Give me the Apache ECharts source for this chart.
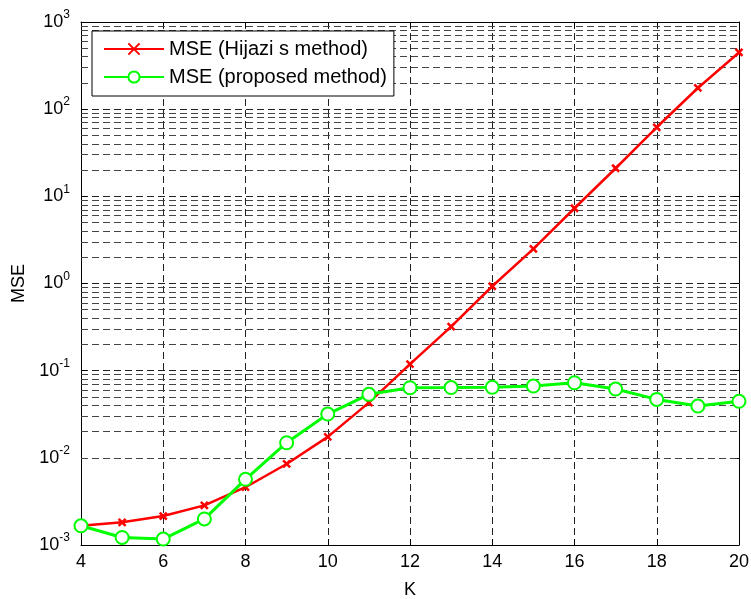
<!DOCTYPE html>
<html>
<head>
<meta charset="utf-8">
<script src="https://cdn.jsdelivr.net/npm/echarts@6/dist/echarts.min.js"></script>
<style>
html,body{margin:0;padding:0;background:#fff}
#main{width:751px;height:599px}
</style>
</head>
<body>
<div id="main"></div>
<script>
// K values (x axis)
var kVals = [4, 5, 6, 7, 8, 9, 10, 11, 12, 13, 14, 15, 16, 17, 18, 19, 20]
// MSE, Hijazi's method
var mseHijazi = [0.00166, 0.00182, 0.00215, 0.00285, 0.0046, 0.0085, 0.0174, 0.043, 0.119, 0.32, 0.93, 2.5, 7.3, 21, 62, 175, 447]
// MSE, proposed method
var mseProposed = [0.00166, 0.00122, 0.00117, 0.00199, 0.00567, 0.0149, 0.0318, 0.0535, 0.0637, 0.0640, 0.0645, 0.0666, 0.0727, 0.0615, 0.0468, 0.0393, 0.0445]
// log grid: decades and the minor multipliers inside each
var decades = [0.001, 0.01, 0.1, 1, 10, 100]
var minorMult = [2, 3, 4, 5, 6, 7, 8, 9]

var font = 'Liberation Sans, Arial, Helvetica, sans-serif'

function pairs(xs, ys){
    var out = []
    for(var i=0;i<xs.length;i++){
        out.push([xs[i], ys[i]])
    }
    return out
}

// minor dashed grid lines (2..9 x 10^n)
var minorLines = []
for(var d=0;d<decades.length;d++){
    for(var m=0;m<minorMult.length;m++){
        minorLines.push({yAxis: decades[d]*minorMult[m]})
    }
}

var gridDash = {color:'#222', width:1, type:[7,4]}

var myChart = echarts.init(document.getElementById('main'))
var option = {
    animation:false,
    textStyle:{fontFamily:font},
    grid:{left:81, right:12, top:22, bottom:54, containLabel:false, outerBoundsMode:'none'},
    legend:{
        left:92,
        top:31,
        orient:'vertical',
        backgroundColor:'#fff',
        borderColor:'#000',
        borderWidth:1,
        borderRadius:0,
        padding:[8, 7, 9, 11],
        itemWidth:60,
        itemHeight:14,
        itemGap:8,
        textStyle:{fontFamily:font, fontSize:20, color:'#000'},
        z:10,
        data:['MSE (Hijazi s method)', 'MSE (proposed method)']
    },
    xAxis:[{
        type:'value',
        min:4,
        max:20,
        interval:2,
        name:'K',
        nameLocation:'middle',
        nameGap:36,
        nameTextStyle:{fontFamily:font, fontSize:18, color:'#000'},
        axisLine:{show:true, lineStyle:{color:'#000', width:1}},
        axisTick:{show:true, inside:true, length:6, lineStyle:{color:'#000'}},
        axisLabel:{fontFamily:font, fontSize:18, color:'#000', margin:8},
        splitLine:{show:true, lineStyle:gridDash}
    },{
        type:'value',
        position:'top',
        min:4,
        max:20,
        interval:2,
        axisLine:{show:true, lineStyle:{color:'#000', width:1}},
        axisTick:{show:true, inside:true, length:6, lineStyle:{color:'#000'}},
        axisLabel:{show:false},
        splitLine:{show:false}
    }],
    yAxis:[{
        type:'log',
        logBase:10,
        min:0.001,
        max:1000,
        interval:1,
        name:'MSE',
        nameLocation:'middle',
        nameGap:52,
        nameTextStyle:{fontFamily:font, fontSize:18, color:'#000'},
        axisLine:{show:true, lineStyle:{color:'#000', width:1}},
        axisTick:{show:true, inside:true, length:6, lineStyle:{color:'#000'}},
        axisLabel:{
            margin:11,
            formatter:function(v){
                var e = Math.round(Math.log(v)/Math.LN10)
                return '{b|10}{s|' + e + '}'
            },
            rich:{
                b:{fontFamily:font, fontSize:18, color:'#000'},
                s:{fontFamily:font, fontSize:12, color:'#000', padding:[0,0,14,0]}
            }
        },
        splitLine:{show:true, lineStyle:gridDash}
    },{
        type:'log',
        logBase:10,
        min:0.001,
        max:1000,
        interval:1,
        position:'right',
        axisLine:{show:true, lineStyle:{color:'#000', width:1}},
        axisTick:{show:true, inside:true, length:6, lineStyle:{color:'#000'}},
        axisLabel:{show:false},
        splitLine:{show:false}
    }],
    series:[{
        name:'MSE (Hijazi s method)',
        type:'line',
        data:pairs(kVals, mseHijazi),
        symbol:'path://M0,0L10,10M10,0L0,10',
        symbolSize:7,
        showAllSymbol:true,
        lineStyle:{color:'#ff0000', width:2.5},
        itemStyle:{color:'#ff0000', borderColor:'#ff0000', borderWidth:2.5},
        z:3,
        markLine:{
            silent:true,
            symbol:'none',
            label:{show:false},
            lineStyle:{color:'#444', width:1, type:[7,4]},
            emphasis:{disabled:true},
            data:minorLines,
            z:1
        }
    },{
        name:'MSE (proposed method)',
        type:'line',
        data:pairs(kVals, mseProposed),
        symbol:'emptyCircle',
        symbolSize:13,
        showAllSymbol:true,
        lineStyle:{color:'#00ff00', width:3},
        itemStyle:{color:'#00ff00', borderColor:'#00ff00', borderWidth:3},
        z:4
    }]
}
myChart.setOption(option)
</script>
</body>
</html>
